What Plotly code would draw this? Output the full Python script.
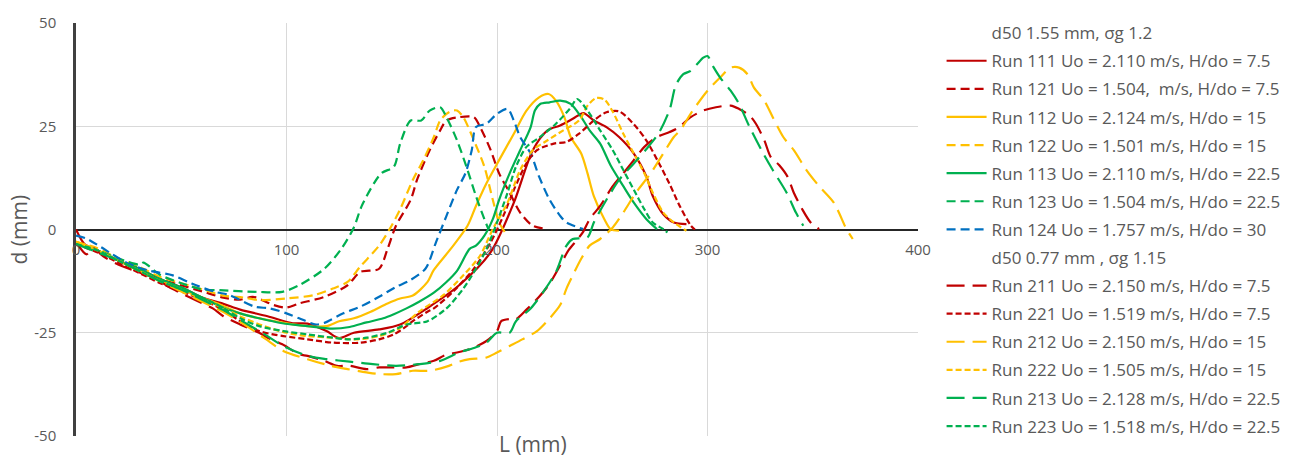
import plotly.graph_objects as go

# ---------------- data (L in mm, d in mm) ----------------
L_111 = [0, 4, 10, 20, 30, 40, 50, 60, 70, 78, 91, 103, 110, 119, 125, 132, 144, 154, 167, 182, 197, 208, 217, 224, 230, 236, 241, 246, 252, 258, 265, 271, 274, 279, 284, 290]
d_111 = [0, -3.5, -5, -7.5, -9.5, -12, -14, -16.5, -18, -19.4, -21, -22.7, -22.8, -24.6, -26.3, -25, -24.2, -23, -19, -13.5, -5.5, 6.5, 19.2, 24, 25.2, 26.8, 28.2, 26.4, 24.8, 22.4, 18.4, 12.8, 8.1, 3.7, 1.7, 1.3]

L_121 = [0, 10, 20, 30, 40, 50, 60, 70, 78, 84, 94, 100, 106, 118, 129, 135, 144, 148, 152, 159, 162, 168, 173, 176, 182, 189, 192, 197, 201, 206, 211, 217, 224]
d_121 = [-3.5, -5, -7.5, -9.5, -12, -13.5, -15, -16.5, -17, -16.3, -18.3, -18.9, -17.9, -16.3, -13.5, -10.3, -9.5, -4.7, 0.9, 7.2, 12, 19.2, 24, 26.4, 27.2, 27.2, 24.8, 19.2, 13.6, 8.9, 4.1, 0.9, 0.1]

L_112 = [0, 10, 20, 30, 40, 50, 60, 70, 78, 94, 110, 119, 125, 132, 140, 148, 154, 160, 167, 170, 178, 186, 190, 195, 201, 208, 214, 220, 224.5, 228, 232, 235, 240, 243, 246, 251, 254, 258]
d_112 = [-3, -5, -7.5, -10, -12.5, -14.5, -16.5, -18.5, -20.3, -22.2, -23.4, -23.4, -22.2, -21.5, -19.9, -17.9, -16.7, -16, -12.7, -9.8, -4.7, 0.9, 5.7, 11.2, 16.8, 23.2, 28.8, 32, 32.8, 31.2, 27.2, 22.4, 18.4, 13.6, 8.1, 2.5, 0.1, -0.3]

L_122 = [0, 10, 20, 30, 40, 50, 60, 70, 80, 87, 100, 113, 122, 129, 135, 144, 149, 154, 160, 165, 170, 173, 176, 179, 181, 184, 189, 194, 198, 201, 205]
d_122 = [-3, -4.5, -7, -9, -11.5, -13, -14.5, -16, -16.5, -17.1, -16.7, -15.9, -14.3, -12.7, -9, -3.9, 0.1, 4.9, 12, 16.8, 22.4, 26.4, 28, 28.8, 28.8, 27.2, 21.6, 15.2, 7.2, 1.7, -1.5]

L_113 = [0, 10, 20, 30, 40, 50, 60, 68, 78, 87, 98, 110, 122, 130, 138, 146, 151, 157, 163, 170, 176, 181, 187, 190, 194, 198, 201, 206, 211, 216, 218, 220.5, 225, 230, 235, 240, 244, 249, 254, 260, 265, 271, 276]
d_113 = [-3.5, -5, -7.5, -9.5, -12, -14, -16.5, -18.5, -20.3, -21.5, -22.7, -23.4, -24, -23.6, -22.5, -21.5, -20.5, -19.1, -17.5, -15.3, -12.7, -10, -4.7, -3.9, -1.5, 2.5, 7.2, 13.6, 19.2, 24.8, 28.8, 30.4, 30.8, 31.2, 30.4, 27.2, 24, 20.8, 15.5, 10.5, 6.5, 2.5, 0.1]

L_123 = [0, 10, 20, 30, 32, 40, 50, 60, 68, 86, 98, 106, 118, 126, 132, 136, 145, 151, 154, 159, 164, 168, 173, 176, 181, 186, 190, 194, 196]
d_123 = [-3.5, -5, -7, -8.5, -8, -11, -13, -14.5, -14.7, -15.1, -15.1, -13.5, -9.5, -4.7, 0.5, 6, 13.6, 15.2, 20.8, 26.4, 26.4, 28.8, 29.6, 27.2, 21.6, 14.4, 8.1, 2.5, 0]

L_124 = [0, 5, 12, 17, 25, 35, 46, 55, 66, 73, 85, 92, 100, 106, 114, 118, 127, 135, 144, 152, 158, 166, 171, 176, 181, 185, 188, 190, 195, 200, 205, 208, 211, 216, 220, 225, 230, 233, 241]
d_124 = [-1.5, -2.2, -4.3, -5.9, -8.3, -10, -11.1, -13.1, -15.1, -15.9, -18.7, -19.1, -20.3, -21.5, -23, -22.6, -20.3, -18.7, -16.3, -13.9, -12.5, -9.5, -3.1, 3.3, 9.6, 13.6, 19.2, 24.8, 25.6, 28, 29.2, 26.4, 22.4, 18.4, 12.8, 7.2, 3.3, 1.7, 0.1]

L_211 = [0, 5, 8, 13, 20, 28, 38, 44, 60, 65, 70, 78, 87, 91, 98, 106, 110, 118, 124, 130, 138, 144, 151, 157, 163, 170, 175, 179, 187, 195, 200, 202, 206, 209, 214, 220, 225, 230, 234, 238, 241, 244, 249, 255, 260, 265, 270, 276, 282, 286, 292, 298, 304, 311, 315, 320, 323, 327, 330, 334, 338, 341, 345, 349, 353]
d_211 = [-3, -6, -4.5, -6.5, -8.5, -10, -11.9, -13.9, -17.9, -19.1, -21, -23, -25, -26.2, -27.8, -30.2, -30.6, -31.8, -33, -33, -33.8, -33.4, -33.4, -33.4, -32.6, -31.8, -30.5, -30, -29, -27, -24.6, -22.2, -21.7, -21.7, -19.4, -16.3, -13.1, -8.7, -5, -2.5, -0.5, 2.5, 5.7, 10.5, 13.6, 16.8, 20, 22.4, 23.6, 24.6, 27.2, 28.8, 29.6, 30, 29.2, 27.6, 25.6, 21.6, 17.6, 15.6, 12.8, 8.9, 4.9, 1.7, 0.1]

L_221 = [0, 10, 20, 30, 40, 50, 60, 70, 78, 87, 98.5, 110, 122, 135, 144, 151, 157, 160, 167, 170, 179, 189, 197, 203, 208, 214, 219, 227, 233, 239, 246, 252, 258, 265, 271, 277, 282, 287, 292, 294]
d_221 = [-3.5, -5.5, -8, -10.5, -13, -15, -17, -19.5, -22.2, -24.6, -25.8, -26.6, -27.4, -27.4, -26.6, -25.4, -23.4, -22.2, -19.9, -19.1, -15.1, -9.5, -3.1, 3.3, 9.6, 16, 19.2, 20.8, 21.2, 23.2, 26.4, 28.4, 28.6, 25.5, 21.5, 16, 11, 5.5, 1.0, 0]

L_212 = [0, 10, 20, 30, 40, 50, 60, 70, 80, 90, 98.5, 110, 121, 129, 138, 144, 152, 160, 168, 176, 182, 187, 195, 200, 206, 212, 219, 225, 230, 233, 236, 240, 244, 249, 255, 260, 266, 273, 279, 284, 287, 293, 300, 306, 311, 315, 319, 322, 327, 331, 336, 341, 347, 353, 360, 366, 369]
d_212 = [-3, -5, -7.5, -10, -12.5, -15, -17.5, -20, -23, -26.5, -29.4, -31.4, -33, -33.8, -34.6, -35, -35, -34.2, -34.2, -33.2, -32, -31.4, -31, -29.8, -28.2, -26.6, -24.6, -21.5, -18.3, -14.3, -11.1, -7.1, -3.9, -2.3, 0.5, 4.1, 8.9, 13.6, 18.4, 22.4, 24, 28.8, 33.6, 36.8, 39.2, 39.2, 37.6, 34.4, 31.2, 27.2, 22.4, 19.2, 14.4, 10.5, 6.5, 0.1, -2.3]

L_222 = [0, 10, 20, 30, 40, 50, 60, 70, 80, 90, 100, 110, 122, 133, 144, 151, 154, 163, 174.5, 184, 192, 198, 205, 211, 217, 224, 231.5, 239, 243, 247, 251, 255, 260, 265, 270, 274, 279, 284, 290]
d_222 = [-3, -5, -7.5, -10, -12.5, -14.5, -17, -19, -21.5, -23.5, -25, -25.8, -26.2, -26.6, -25.8, -24.5, -23.8, -19.9, -15.9, -11.1, -6.3, 0.1, 6.5, 14.4, 19.2, 21.6, 24, 26.4, 30, 31.8, 31.5, 28.5, 23.2, 18.4, 13.6, 8.9, 4.1, 1.7, -0.3]

L_213 = [0, 10, 20, 30, 40, 50, 60, 70, 80, 90, 98.5, 110, 119, 130, 141, 152, 163, 173, 182, 190, 195, 200, 206, 209, 216, 222, 228, 233, 236, 243, 246, 252, 258, 265, 271, 277, 282, 285, 288.5, 292, 295, 298, 300, 303, 306, 311, 315, 320, 326.5, 331, 337.6, 342, 345.5]
d_213 = [-3.5, -5.5, -7.5, -10, -12.5, -14.5, -17, -19.5, -22.5, -25.5, -28.2, -30.6, -31.4, -32, -32.6, -33, -32.6, -31.8, -29.8, -28.5, -27.4, -25, -25, -22.2, -19.1, -15.1, -10.3, -3.9, -2.3, -1.9, 1.7, 7.2, 12, 16, 19.5, 23.5, 29, 35, 37.6, 38.4, 40, 41.6, 42, 39.2, 36.8, 33.6, 30.4, 24.8, 18.4, 14.4, 8.9, 4.1, 0.9]

L_223 = [0, 10, 20, 30, 40, 50, 60, 70, 78, 87, 98.5, 110, 122, 130, 138, 148, 157, 167, 176, 184, 190, 195, 200, 205, 209, 214, 220.5, 228, 235, 238, 243, 249, 255, 260, 265, 270, 274, 279, 281]
d_223 = [-3.5, -5, -7.5, -10, -12.5, -14.5, -16.5, -19, -21.5, -23.4, -24.6, -25.4, -26.2, -26.6, -26.2, -25, -23, -22.2, -19.1, -14.3, -9.5, -4.7, 1.7, 8.9, 15.2, 20, 22.4, 25.6, 29.5, 31.6, 28.8, 24, 19.2, 14.4, 9.6, 4.9, 1.7, 0.1, -0.7]

x_ticks = [0, 100, 200, 300, 400]
y_ticks = [-50, -25, 0, 25, 50]

RED, GOLD, GREEN, BLUE = "#C00000", "#FFC000", "#00B050", "#0070C0"
DASH_MED = "9px,5px"
DASH_SYS = "6px,3px"
DASH_LONG = "18px,8px"

series = [
    ("d50 1.55 mm, σg 1.2", None, None, None, None),
    ("Run 111 Uo = 2.110 m/s, H/do = 7.5", L_111, d_111, RED, "solid"),
    ("Run 121 Uo = 1.504,  m/s, H/do = 7.5", L_121, d_121, RED, DASH_MED),
    ("Run 112 Uo = 2.124 m/s, H/do = 15", L_112, d_112, GOLD, "solid"),
    ("Run 122 Uo = 1.501 m/s, H/do = 15", L_122, d_122, GOLD, DASH_MED),
    ("Run 113 Uo = 2.110 m/s, H/do = 22.5", L_113, d_113, GREEN, "solid"),
    ("Run 123 Uo = 1.504 m/s, H/do = 22.5", L_123, d_123, GREEN, DASH_MED),
    ("Run 124 Uo = 1.757 m/s, H/do = 30", L_124, d_124, BLUE, DASH_MED),
    ("d50 0.77 mm , σg 1.15", None, None, None, None),
    ("Run 211 Uo = 2.150 m/s, H/do = 7.5", L_211, d_211, RED, DASH_LONG),
    ("Run 221 Uo = 1.519 m/s, H/do = 7.5", L_221, d_221, RED, DASH_SYS),
    ("Run 212 Uo = 2.150 m/s, H/do = 15", L_212, d_212, GOLD, DASH_LONG),
    ("Run 222 Uo = 1.505 m/s, H/do = 15", L_222, d_222, GOLD, DASH_SYS),
    ("Run 213 Uo = 2.128 m/s, H/do = 22.5", L_213, d_213, GREEN, DASH_LONG),
    ("Run 223 Uo = 1.518 m/s, H/do = 22.5", L_223, d_223, GREEN, DASH_SYS),
]

FONT = "Open Sans"
TXT = "#595959"

fig = go.Figure()
for i, (name, xs, ys, col, dash) in enumerate(series):
    if xs is None:
        fig.add_trace(go.Scatter(x=[None], y=[None], mode="lines", name=name,
                                 line=dict(color="rgba(0,0,0,0)", width=2),
                                 legendgroup=f"g{i}", hoverinfo="skip"))
    else:
        fig.add_trace(go.Scatter(x=xs, y=ys, mode="lines", name=name,
                                 line=dict(color=col, width=2.2, dash=dash,
                                           shape="spline", smoothing=0.8),
                                 legendgroup=f"g{i}"))

fig.update_layout(
    width=1300, height=463,
    margin=dict(l=76, r=382, t=18, b=27),
    paper_bgcolor="white", plot_bgcolor="white",
    font=dict(family=FONT, color=TXT, size=15),
    showlegend=True,
    legend=dict(x=1.028, xanchor="left", y=1 + 8 / 418, yanchor="top",
                font=dict(family=FONT, size=17, color=TXT),
                tracegroupgap=3, bgcolor="rgba(0,0,0,0)",
                itemwidth=40, maxheight=463),
    xaxis=dict(range=[0, 400], tickvals=x_ticks, ticktext=[str(v) for v in x_ticks],
               showgrid=True, gridcolor="#D9D9D9", gridwidth=1,
               zeroline=False, showline=False,
               anchor="free", position=0.5, ticks="",
               ticklabelstandoff=9,
               tickfont=dict(family=FONT, size=15, color=TXT)),
    yaxis=dict(range=[-50, 50], tickvals=y_ticks, ticktext=[str(v) for v in y_ticks],
               showgrid=True, gridcolor="#D9D9D9", gridwidth=1,
               zeroline=True, zerolinecolor="#262626", zerolinewidth=2,
               showline=True, linecolor="#404040", linewidth=2.5,
               ticks="", ticklabelstandoff=14,
               tickfont=dict(family=FONT, size=15, color=TXT)),
    annotations=[
        dict(text="L (mm)", xref="paper", yref="paper", x=(533 - 76) / 842, y=0,
             xanchor="center", yanchor="middle", yshift=-8, showarrow=False,
             font=dict(family=FONT, size=21, color=TXT)),
        dict(text="d (mm)", xref="paper", yref="paper", x=0, y=0.5, xshift=-58,
             xanchor="center", yanchor="middle", textangle=-90, showarrow=False,
             font=dict(family=FONT, size=21, color=TXT)),
    ],
)

fig.write_html("out.html")
